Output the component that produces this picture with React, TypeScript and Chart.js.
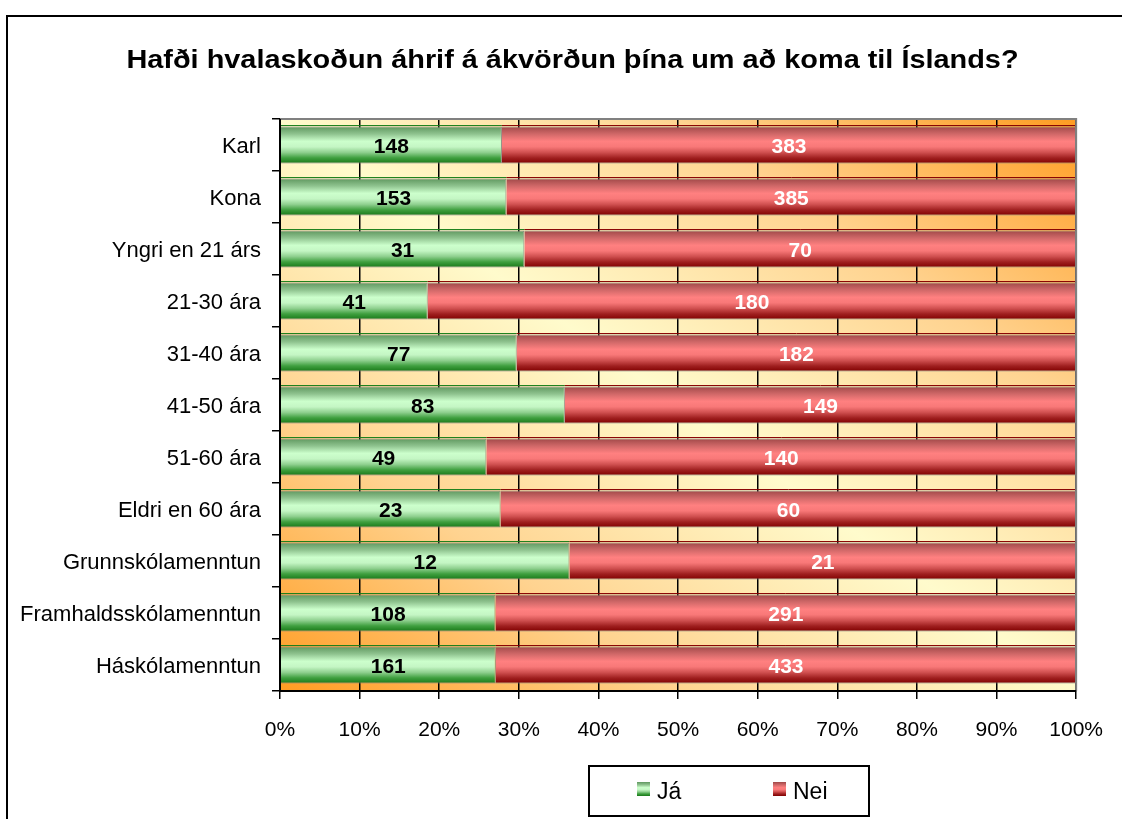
import React, { useEffect, useRef } from 'react';
import { Chart, registerables } from 'chart.js';

Chart.register(...registerables);

const TITLE = 'Hafði hvalaskoðun áhrif á ákvörðun þína um að koma til Íslands?';
const categories = [
  'Karl',
  'Kona',
  'Yngri en 21 árs',
  '21-30 ára',
  '31-40 ára',
  '41-50 ára',
  '51-60 ára',
  'Eldri en 60 ára',
  'Grunnskólamenntun',
  'Framhaldsskólamenntun',
  'Háskólamenntun',
];
const jaValues = [148, 153, 31, 41, 77, 83, 49, 23, 12, 108, 161];
const neiValues = [383, 385, 70, 180, 182, 149, 140, 60, 21, 291, 433];
const seriesNames = ['Já', 'Nei'];

const FONT = '"Liberation Sans", Arial, Helvetica, sans-serif';
const BAR_PCT = 0.71;

const GREEN_STOPS: [number, string][] = [
  [0, '#5f975f'],
  [0.2, '#8fc38f'],
  [0.4, '#ccffcc'],
  [0.55, '#c4f6c4'],
  [0.7, '#8fd08f'],
  [0.85, '#3f9f3f'],
  [1, '#187818'],
];
const RED_STOPS: [number, string][] = [
  [0, '#a04848'],
  [0.2, '#d06868'],
  [0.4, '#ff8080'],
  [0.55, '#f87878'],
  [0.7, '#d05050'],
  [0.85, '#a02020'],
  [1, '#800000'],
];
const DARK = ['#1a7f1a', '#880000'];

function vGrad(ctx: CanvasRenderingContext2D, top: number, bottom: number, stops: [number, string][]) {
  const g = ctx.createLinearGradient(0, top, 0, bottom);
  stops.forEach(([o, c]) => g.addColorStop(o, c));
  return g;
}

function barFill(stops: [number, string][], fallback: string) {
  return (c: any) => {
    const chart = c.chart;
    const area = chart.chartArea;
    const y = chart.scales && chart.scales.y;
    if (!area || !y || c.dataIndex === undefined) return fallback;
    const yc = y.getPixelForValue(c.dataIndex);
    const h = ((area.bottom - area.top) / categories.length) * BAR_PCT;
    return vGrad(chart.ctx, yc - h / 2, yc + h / 2, stops);
  };
}

const decorPlugin = {
  id: 'decor',
  beforeDraw(chart: any) {
    const { ctx, chartArea: a } = chart;
    ctx.save();
    ctx.fillStyle = '#ffffff';
    ctx.fillRect(0, 0, chart.width, chart.height);
    const w = a.right - a.left;
    const h = a.bottom - a.top;
    const cx = (a.left + a.right) / 2;
    const cy = (a.top + a.bottom) / 2;
    const len = Math.hypot(w, h);
    const ux = h / len;
    const uy = -w / len;
    const ext = Math.abs((-w / 2) * ux + (h / 2) * uy);
    const g = ctx.createLinearGradient(cx - ux * ext, cy - uy * ext, cx + ux * ext, cy + uy * ext);
    g.addColorStop(0, '#ff9c22');
    g.addColorStop(0.25, '#ffd390');
    g.addColorStop(0.5, '#fffbcc');
    g.addColorStop(0.75, '#ffd390');
    g.addColorStop(1, '#ff9c22');
    ctx.fillStyle = g;
    ctx.fillRect(a.left, a.top, w, h);
    ctx.restore();
  },
  afterDatasetsDraw(chart: any) {
    const { ctx } = chart;
    ctx.save();
    chart.data.datasets.forEach((ds: any, di: number) => {
      const meta = chart.getDatasetMeta(di);
      meta.data.forEach((el: any) => {
        const p = el.getProps(['x', 'y', 'base', 'height'], true);
        ctx.strokeStyle = DARK[di];
        ctx.lineWidth = 1;
        ctx.beginPath();
        ctx.moveTo(Math.min(p.x, p.base), p.y - p.height / 2 - 1);
        ctx.lineTo(Math.max(p.x, p.base), p.y - p.height / 2 - 1);
        ctx.stroke();
      });
    });
    const vals = [jaValues, neiValues];
    ctx.font = `bold 21px ${FONT}`;
    ctx.textAlign = 'center';
    ctx.textBaseline = 'middle';
    chart.data.datasets.forEach((ds: any, di: number) => {
      const meta = chart.getDatasetMeta(di);
      ctx.fillStyle = di === 0 ? '#000000' : '#ffffff';
      meta.data.forEach((el: any, i: number) => {
        const p = el.getProps(['x', 'y', 'base'], true);
        ctx.fillText(String(vals[di][i]), (p.x + p.base) / 2, p.y + 2.5);
      });
    });
    ctx.restore();
  },
  afterDraw(chart: any) {
    const { ctx, chartArea: a } = chart;
    ctx.save();
    ctx.strokeStyle = '#808080';
    ctx.lineWidth = 2;
    ctx.beginPath();
    ctx.moveTo(a.left, a.top);
    ctx.lineTo(a.right, a.top);
    ctx.lineTo(a.right, a.bottom);
    ctx.stroke();
    ctx.strokeStyle = '#000000';
    ctx.beginPath();
    ctx.moveTo(a.left, a.top);
    ctx.lineTo(a.left, a.bottom);
    ctx.lineTo(a.right, a.bottom);
    ctx.stroke();
    // title (stretched horizontally to match the original's wide rendering)
    ctx.save();
    ctx.fillStyle = '#000000';
    ctx.font = `bold 25px ${FONT}`;
    ctx.textAlign = 'center';
    ctx.textBaseline = 'alphabetic';
    ctx.translate(572.5, 68);
    ctx.scale(1.155, 1);
    ctx.fillText(TITLE, 0, 0);
    ctx.restore();
    // legend
    ctx.lineWidth = 2;
    ctx.strokeStyle = '#000000';
    ctx.strokeRect(589, 766, 280, 50);
    const items = [
      { x: 637, stops: GREEN_STOPS },
      { x: 773, stops: RED_STOPS },
    ];
    ctx.font = `23px ${FONT}`;
    ctx.textAlign = 'left';
    ctx.textBaseline = 'alphabetic';
    items.forEach((it, i) => {
      ctx.fillStyle = vGrad(ctx, 782, 796, it.stops);
      ctx.fillRect(it.x, 782, 13, 14);
      ctx.fillStyle = '#000000';
      ctx.fillText(seriesNames[i], it.x + 20, 799);
    });
    ctx.lineWidth = 2;
    ctx.beginPath();
    ctx.moveTo(7, chart.height);
    ctx.lineTo(7, 16);
    ctx.lineTo(chart.width, 16);
    ctx.stroke();
    ctx.restore();
  },
};

export default function App() {
  const ref = useRef<HTMLCanvasElement | null>(null);
  useEffect(() => {
    if (!ref.current) return;
    const jaPct = jaValues.map((v, i) => (v / (v + neiValues[i])) * 100);
    const neiPct = neiValues.map((v, i) => (v / (v + jaValues[i])) * 100);
    const chart = new Chart(ref.current, {
      type: 'bar',
      data: {
        labels: categories,
        datasets: [
          {
            label: seriesNames[0],
            data: jaPct,
            backgroundColor: barFill(GREEN_STOPS, '#8fd08f'),
            borderColor: '#808080',
            borderWidth: 1,
            barPercentage: BAR_PCT,
            categoryPercentage: 1,
          },
          {
            label: seriesNames[1],
            data: neiPct,
            backgroundColor: barFill(RED_STOPS, '#ff8080'),
            borderColor: '#808080',
            borderWidth: 1,
            barPercentage: BAR_PCT,
            categoryPercentage: 1,
          },
        ],
      },
      options: {
        indexAxis: 'y',
        responsive: false,
        devicePixelRatio: 1,
        animation: false,
        layout: { padding: { top: 119, right: 45, bottom: 68, left: 0 } },
        plugins: {
          legend: { display: false },
          title: { display: false },
          tooltip: { enabled: false },
        },
        scales: {
          x: {
            type: 'linear',
            stacked: true,
            min: 0,
            max: 100,
            ticks: {
              stepSize: 10,
              callback: (v: any) => v + '%',
              color: '#000000',
              font: { family: FONT, size: 21 },
              padding: 19,
              maxRotation: 0,
            },
            grid: {
              color: '#000000',
              lineWidth: 1.5,
              drawTicks: true,
              tickLength: 8,
              tickColor: '#000000',
              tickWidth: 1.5,
            },
            border: { display: true, color: '#000000', width: 2 },
            afterFit: (s: any) => {
              s.height = 60;
            },
          },
          y: {
            type: 'category',
            stacked: true,
            ticks: {
              color: '#000000',
              font: { family: FONT, size: 22 },
              padding: 11,
              autoSkip: false,
              labelOffset: 2,
            },
            grid: {
              drawOnChartArea: false,
              drawTicks: true,
              tickLength: 8,
              color: '#000000',
              lineWidth: 1.5,
              offset: true,
            },
            border: { display: true, color: '#000000', width: 2 },
            afterFit: (s: any) => {
              s.width = 280;
            },
          },
        },
      },
      plugins: [decorPlugin],
    } as any);
    return () => chart.destroy();
  }, []);
  return (
    <canvas
      ref={ref}
      width={1122}
      height={819}
      style={{ position: 'fixed', left: 0, top: 0, display: 'block' }}
    />
  );
}
